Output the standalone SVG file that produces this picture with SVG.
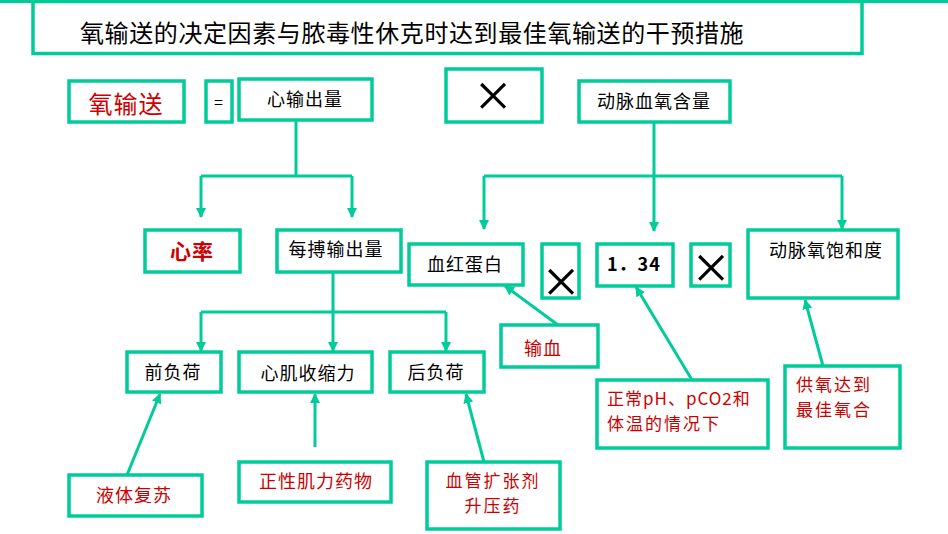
<svg xmlns="http://www.w3.org/2000/svg" width="948" height="534" viewBox="0 0 948 534">
<style>
.box{fill:#fff;stroke:#00CC99;stroke-width:3.5}
.ln{fill:none;stroke:#00CC99;stroke-width:3}
.t{font-family:"Noto Sans CJK SC","Noto Sans",sans-serif;font-size:18px;fill:#000;text-anchor:middle;dominant-baseline:central;letter-spacing:1px}
.r{fill:#CC0000}
.l{text-anchor:start}
.m{font-size:17px;letter-spacing:2px}
.x{font-family:"Liberation Serif",serif;font-weight:normal;text-anchor:middle;dominant-baseline:central;fill:#000;font-size:64px}
</style>
<defs>
<marker id="ah" markerUnits="userSpaceOnUse" markerWidth="10" markerHeight="10" refX="9" refY="5" orient="auto">
<path d="M0,0 L10,5 L0,10 z" fill="#00CC99"/>
</marker>
</defs>
<rect width="948" height="534" fill="#fff"/>
<line x1="0" y1="1.5" x2="948" y2="1.5" class="ln"/>
<g id="title">
<rect class="box" x="33" y="1.5" width="829" height="52"/>
<text class="t l" x="80" y="31" style="font-size:24px;letter-spacing:0.6px">氧输送的决定因素与脓毒性休克时达到最佳氧输送的干预措施</text>
</g>
<g id="connectors">
<path class="ln" d="M296,120 V176 M201,176 H352"/>
<path class="ln" d="M201,176 V217" marker-end="url(#ah)"/>
<path class="ln" d="M352,176 V217" marker-end="url(#ah)"/>
<path class="ln" d="M654,122 V176 M484,176 H842"/>
<path class="ln" d="M484,176 V229" marker-end="url(#ah)"/>
<path class="ln" d="M654,176 V231" marker-end="url(#ah)"/>
<path class="ln" d="M842,176 V229" marker-end="url(#ah)"/>
<path class="ln" d="M333,272 V312 M201,312 H446"/>
<path class="ln" d="M333,312 V351" marker-end="url(#ah)"/>
<path class="ln" d="M201,312 V351" marker-end="url(#ah)"/>
<path class="ln" d="M446,312 V351" marker-end="url(#ah)"/>
<path class="ln" d="M127,475 L160,394" marker-end="url(#ah)"/>
<path class="ln" d="M315,447 L315,394" marker-end="url(#ah)"/>
<path class="ln" d="M484,462 L466,394" marker-end="url(#ah)"/>
<path class="ln" d="M558,325 L505,286" marker-end="url(#ah)"/>
<path class="ln" d="M692,380 L636,287" marker-end="url(#ah)"/>
<path class="ln" d="M823,366 L805,300" marker-end="url(#ah)"/>
</g>
<g id="do2">
<rect class="box" x="69" y="81" width="115" height="41"/>
<text class="t r" x="126" y="102" style="font-size:24px">氧输送</text>
</g>
<g id="eq">
<rect class="box" x="206" y="81" width="26" height="41"/>
<text class="t" x="219" y="101" style="font-size:16px">=</text>
</g>
<g id="co">
<rect class="box" x="239" y="79" width="133" height="41"/>
<text class="t" x="305" y="98">心输出量</text>
</g>
<g id="times1">
<rect class="box" x="446" y="69" width="96" height="53"/>
<text class="x" x="493" y="95">×</text>
</g>
<g id="cao2">
<rect class="box" x="579" y="81" width="151" height="41"/>
<text class="t" x="654" y="100">动脉血氧含量</text>
</g>
<g id="hr">
<rect class="box" x="145" y="230" width="95" height="42"/>
<text class="t r" x="192" y="250" style="font-size:21px;font-weight:bold">心率</text>
</g>
<g id="sv">
<rect class="box" x="277" y="230" width="124" height="42"/>
<text class="t" x="336" y="248">每搏输出量</text>
</g>
<g id="hb">
<rect class="box" x="409" y="244" width="114" height="41"/>
<text class="t" x="465" y="263">血红蛋白</text>
</g>
<g id="times2">
<rect class="box" x="542" y="244" width="37" height="54"/>
<text class="x" x="561" y="281">×</text>
</g>
<g id="k134">
<rect class="box" x="597" y="244" width="76" height="42"/>
<text class="t l" x="607" y="263" style="font-weight:bold">1．34</text>
</g>
<g id="times3">
<rect class="box" x="691" y="244" width="39" height="42"/>
<text class="x" x="711" y="267">×</text>
</g>
<g id="sao2">
<rect class="box" x="748" y="230" width="150" height="68"/>
<text class="t" x="826" y="249">动脉氧饱和度</text>
</g>
<g id="preload">
<rect class="box" x="127" y="352" width="94" height="40"/>
<text class="t" x="173" y="371">前负荷</text>
</g>
<g id="contract">
<rect class="box" x="239" y="352" width="133" height="40"/>
<text class="t" x="308" y="372">心肌收缩力</text>
</g>
<g id="afterload">
<rect class="box" x="390" y="352" width="94" height="40"/>
<text class="t" x="436" y="371">后负荷</text>
</g>
<g id="transfusion">
<rect class="box" x="501" y="325" width="97" height="42"/>
<text class="t r" x="543" y="347">输血</text>
</g>
<g id="normal">
<rect class="box" x="597" y="380" width="171" height="68"/>
<text class="t r l m" x="607" y="397" style="letter-spacing:1px">正常pH、pCO2和</text>
<text class="t r l m" x="607" y="422">体温的情况下</text>
</g>
<g id="oxygen">
<rect class="box" x="785" y="366" width="115" height="82"/>
<text class="t r l m" x="796" y="383">供氧达到</text>
<text class="t r l m" x="796" y="408">最佳氧合</text>
</g>
<g id="fluid">
<rect class="box" x="69" y="475" width="133" height="41"/>
<text class="t r" x="134" y="494">液体复苏</text>
</g>
<g id="inotrope">
<rect class="box" x="239" y="462" width="152" height="40"/>
<text class="t r" x="316" y="480">正性肌力药物</text>
</g>
<g id="vaso">
<rect class="box" x="427" y="462" width="133" height="67"/>
<text class="t r m" x="493" y="479">血管扩张剂</text>
<text class="t r m" x="493" y="504">升压药</text>
</g>
</svg>
